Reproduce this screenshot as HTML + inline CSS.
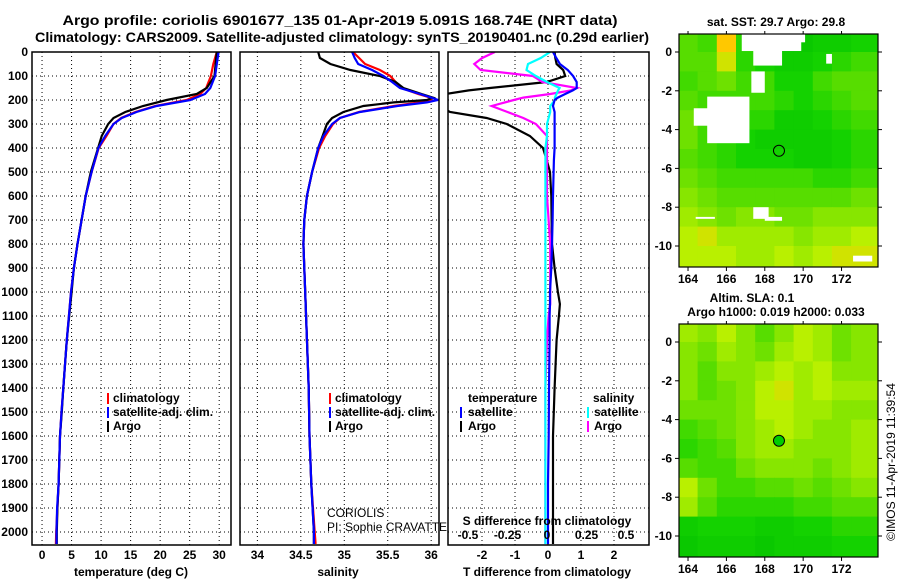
<!DOCTYPE html>
<html><head><meta charset="utf-8">
<style>
html,body{margin:0;padding:0;background:#fff;}
svg{display:block;font-family:"Liberation Sans",sans-serif;}
.b{font-weight:bold;font-size:12px;}
</style></head>
<body>
<svg id="c" width="900" height="580" viewBox="0 0 900 580" xmlns="http://www.w3.org/2000/svg">
<text x="340" y="25" text-anchor="middle" font-weight="bold" font-size="14" textLength="555" lengthAdjust="spacingAndGlyphs">Argo profile: coriolis 6901677_135 01-Apr-2019 5.091S 168.74E (NRT data)</text>
<text x="342" y="42" text-anchor="middle" font-weight="bold" font-size="14" textLength="614" lengthAdjust="spacingAndGlyphs">Climatology: CARS2009. Satellite-adjusted climatology: synTS_20190401.nc (0.29d earlier)</text>
<g id="g"></g>
</svg>
<script>
// ---- data ----
const depthsT=[0,50,100,150,175,200,225,250,275,300,350,400,500,600,700,800,900,1000,1200,1400,1500,1600,1800,1900,2000,2050];
const tempArgo=[29.6,29.4,29.2,27.9,26.2,21.1,17.1,14.1,12.1,11.2,10.1,9.5,8.25,7.4,6.7,6.0,5.4,5.0,4.2,3.6,3.34,3.05,2.8,2.6,2.5,2.5];
const tempClim=[29.6,29.0,28.6,27.8,26.8,24.5,19.2,15.8,13.4,12.1,10.9,9.6,8.4,7.4,6.7,6.0,5.4,4.9,4.2,3.6,3.3,3.05,2.8,2.6,2.4,2.35];
const tempSat=[29.9,29.6,29.3,28.5,27.6,25.1,19.4,16.0,13.5,12.1,10.7,9.55,8.4,7.4,6.7,6.0,5.4,4.9,4.2,3.6,3.3,3.05,2.8,2.55,2.45,2.45];
const depthsS=[0,25,50,75,100,125,150,175,190,200,210,225,250,275,300,350,400,500,600,700,800,1000,1400,1600,1800,2000,2050];
const salArgo=[34.70,34.72,34.84,35.07,35.41,35.59,35.68,35.89,36.02,35.95,35.57,35.22,34.99,34.86,34.80,34.75,34.70,34.63,34.57,34.54,34.53,34.55,34.59,34.60,34.62,34.65,34.65];
const salClim=[35.10,35.17,35.24,35.41,35.53,35.59,35.66,35.85,35.99,36.00,35.87,35.57,35.17,34.95,34.87,34.78,34.71,34.63,34.57,34.54,34.53,34.55,34.59,34.60,34.62,34.66,34.67];
const salSat=[35.09,35.12,35.16,35.32,35.45,35.55,35.64,35.87,36.0,36.08,35.95,35.61,35.18,34.95,34.86,34.76,34.70,34.63,34.57,34.54,34.53,34.55,34.59,34.60,34.62,34.65,34.65];
const depthsD=[0,25,50,75,100,125,150,160,175,190,200,225,250,275,300,350,400,450,500,600,700,800,900,1000,1050,1100,1200,1400,1600,1800,2050];
const dTArgo=[0.2,0.22,0.26,0.46,0.52,-0.04,-1.76,-2.4,-3.1,-3.3,-3.3,-3.3,-2.97,-1.86,-1.25,-0.55,-0.15,-0.04,0.06,0.1,0.11,0.12,0.2,0.3,0.36,0.33,0.26,0.2,0.15,0.15,0.15];
const dTSat=[0.15,0.25,0.36,0.6,0.76,0.87,0.87,0.75,0.52,0.3,0.2,0.15,0.2,0.2,0.2,0.2,0.2,0.18,0.17,0.15,0.14,0.12,0.1,0.06,0.06,0.05,0.05,0.03,0.02,0.0,0.0];
const dSArgo=[-0.33,-0.41,-0.46,-0.42,-0.09,-0.03,0.19,0.15,0.02,-0.15,-0.21,-0.35,-0.25,-0.15,-0.07,0.0,0.0,0.0,0.0,0.0,0.01,0.02,0.02,0.02,0.02,0.01,0.0,-0.01,-0.01,-0.01,-0.01];
const dSSat=[0.02,-0.04,-0.12,-0.13,-0.07,0.0,0.08,0.07,0.06,0.05,0.05,0.02,0.02,0.01,0.0,0.0,-0.01,-0.01,-0.01,-0.01,-0.01,-0.01,-0.01,-0.01,-0.01,-0.01,-0.01,-0.01,-0.01,-0.01,-0.01];
const depthTicks=[0,100,200,300,400,500,600,700,800,900,1000,1100,1200,1300,1400,1500,1600,1700,1800,1900,2000];
const tempTicks=[0,5,10,15,20,25,30];
const salTicks=[34,34.5,35,35.5,36];
const salTickLabels=["34","34.5","35","35.5","36"];
const dTTicks=[-2,-1,0,1,2];
const dSTicks=[-0.5,-0.25,0,0.25,0.5];
const dSTickLabels=["-0.5","-0.25","0","0.25","0.5"];
const lonTicks=[164,166,168,170,172];
const latTicks=[0,-2,-4,-6,-8,-10];
const argoLon=168.74, argoLat=-5.09;
const sstGrid=[
[0.35,0.3,0.7,0.25,0.15,0.1,0.1,0.15,0.15,0.2],
[0.35,0.35,0.6,0.25,0.2,0.15,0.15,0.2,0.25,0.3],
[0.3,0.35,0.4,0.3,0.3,0.2,0.2,0.3,0.35,0.35],
[0.35,0.3,0.3,0.3,0.3,0.25,0.2,0.25,0.3,0.35],
[0.4,0.3,0.3,0.25,0.25,0.15,0.15,0.2,0.25,0.3],
[0.4,0.3,0.25,0.2,0.15,0.15,0.15,0.15,0.2,0.25],
[0.35,0.3,0.25,0.2,0.2,0.2,0.15,0.15,0.2,0.25],
[0.4,0.35,0.3,0.3,0.3,0.3,0.3,0.25,0.25,0.3],
[0.45,0.4,0.35,0.35,0.35,0.35,0.35,0.35,0.35,0.4],
[0.5,0.45,0.4,0.45,0.45,0.4,0.4,0.45,0.45,0.45],
[0.55,0.6,0.5,0.5,0.5,0.5,0.45,0.5,0.5,0.55],
[0.55,0.55,0.55,0.5,0.5,0.55,0.5,0.55,0.6,0.6],
[0.55,0.55,0.55,0.5,0.5,0.55,0.5,0.55,0.6,0.6]];
const slaGrid=[
[0.5,0.45,0.55,0.45,0.35,0.45,0.55,0.5,0.4,0.45],
[0.45,0.4,0.5,0.45,0.4,0.5,0.55,0.5,0.4,0.45],
[0.45,0.35,0.45,0.45,0.5,0.55,0.5,0.55,0.45,0.45],
[0.45,0.35,0.4,0.45,0.55,0.6,0.5,0.55,0.5,0.5],
[0.4,0.4,0.4,0.45,0.55,0.55,0.5,0.5,0.45,0.45],
[0.3,0.35,0.4,0.45,0.5,0.55,0.5,0.45,0.45,0.5],
[0.25,0.3,0.35,0.45,0.5,0.5,0.45,0.45,0.45,0.5],
[0.35,0.3,0.3,0.4,0.45,0.45,0.45,0.4,0.45,0.5],
[0.55,0.4,0.3,0.3,0.35,0.35,0.4,0.35,0.4,0.45],
[0.5,0.35,0.25,0.25,0.25,0.25,0.3,0.3,0.35,0.35],
[0.15,0.2,0.2,0.2,0.15,0.15,0.2,0.2,0.25,0.25],
[0.1,0.15,0.15,0.15,0.1,0.15,0.15,0.15,0.2,0.2],
[0.1,0.15,0.15,0.15,0.1,0.15,0.15,0.15,0.2,0.2]];
// white (missing) patches in SST map: [lon0,lat0,lon1,lat1]
const sstMissing=[[166.8,0.95,169.9,0.05],[167.4,0.1,168.9,-0.7],[169.5,0.95,170.1,0.5],[167.3,-1.0,168.0,-2.1],[165.0,-2.3,167.2,-4.7],[164.3,-2.9,165.2,-3.8],[171.2,-0.1,171.5,-0.6],[167.4,-8.0,168.2,-8.6],[164.4,-8.5,165.4,-8.6],[168.0,-8.5,168.9,-8.7],[172.6,-10.5,173.6,-10.8]];

// ---- helpers ----
const G=document.getElementById('g');
const NS='http://www.w3.org/2000/svg';
function mk(tag,attrs,parent){const e=document.createElementNS(NS,tag);for(const k in attrs)e.setAttribute(k,attrs[k]);(parent||G).appendChild(e);return e;}
function txt(x,y,s,attrs,parent){const e=mk('text',Object.assign({x:x,y:y},attrs||{}),parent);e.textContent=s;return e;}
const Y0=52,DY=0.24,YB=545;
const yD=d=>Y0+d*DY;
function axisX(l,r,v0,v1){return v=>l+(v-v0)*(r-l)/(v1-v0);}
const xT=axisX(32,231,-1.7,32.0);
const xS=axisX(240,439,33.8,36.09);
const xDT=v=>548+33*v;
const xDS=v=>547+158*v;
const panels=[[32,231],[240,439],[448,649]];

panels.forEach((p,i)=>{
  const grp=mk('g',{});
  
  
  depthTicks.forEach(d=>{
    const ln=mk('line',{x1:p[0],x2:p[1],y1:yD(d),y2:yD(d),stroke:'#000','stroke-width':1,'stroke-dasharray':'1,3'},grp);
    
    
  });
});
// vertical grids
tempTicks.forEach(t=>{const l=mk('line',{x1:xT(t),x2:xT(t),y1:Y0,y2:YB,stroke:'#000','stroke-dasharray':'1,3'});

});
salTicks.forEach(t=>{const l=mk('line',{x1:xS(t),x2:xS(t),y1:Y0,y2:YB,stroke:'#000','stroke-dasharray':'1,3'});

});
dTTicks.forEach(t=>{const l=mk('line',{x1:xDT(t),x2:xDT(t),y1:Y0,y2:YB,stroke:'#000','stroke-dasharray':'1,3'});

});

// depth labels
depthTicks.forEach(d=>{const t=txt(28,yD(d)+4,String(d),{'text-anchor':'end',class:'b'});

});

// clip paths
const defs=mk('defs',{});
panels.forEach((p,i)=>{const cp=mk('clipPath',{id:'cp'+i},defs);mk('rect',{x:p[0],y:Y0,width:p[1]-p[0],height:YB-Y0},cp);});

function line(xs,ds,fx,color,clip,name){
  const pts=xs.map((v,i)=>fx(v).toFixed(1)+','+yD(ds[i]).toFixed(1)).join(' ');
  const e=mk('polyline',{points:pts,fill:'none',stroke:color,'stroke-width':2.2,'clip-path':'url(#cp'+clip+')'});
  
  
}
line(tempClim,depthsT,xT,'#ff0000',0,'temp-climatology-line');
line(tempArgo,depthsT,xT,'#000000',0,'temp-argo-line');
line(tempSat,depthsT,xT,'#0000ff',0,'temp-satellite-line');
line(salClim,depthsS,xS,'#ff0000',1,'sal-climatology-line');
line(salArgo,depthsS,xS,'#000000',1,'sal-argo-line');
line(salSat,depthsS,xS,'#0000ff',1,'sal-satellite-line');
line(dTArgo,depthsD,xDT,'#000000',2,'tdiff-argo-line');
line(dSArgo,depthsD,xDS,'#ff00ff',2,'sdiff-argo-line');
line(dSSat,depthsD,xDS,'#00ffff',2,'sdiff-satellite-line');
line(dTSat,depthsD,xDT,'#0000ff',2,'tdiff-satellite-line');

// frames
panels.forEach(p=>{const r=mk('rect',{x:p[0],y:Y0,width:p[1]-p[0],height:YB-Y0,fill:'none',stroke:'#000','stroke-width':1.5});

});

// x tick labels
tempTicks.forEach(t=>{const e=txt(xT(t),559,String(t),{'text-anchor':'middle',class:'b'});

});
salTicks.forEach((t,i)=>{const e=txt(xS(t),559,salTickLabels[i],{'text-anchor':'middle',class:'b'});

});
dTTicks.forEach(t=>{const e=txt(xDT(t),559,String(t),{'text-anchor':'middle',class:'b'});

});
dSTicks.forEach((t,i)=>{const e=txt(xDS(t),539,dSTickLabels[i],{'text-anchor':'middle',class:'b'});

});
[[131,'temperature (deg C)','temp-axis-title'],[338,'salinity','sal-axis-title'],[547,'T difference from climatology','tdiff-axis-title']].forEach(a=>{
  const e=txt(a[0],576,a[1],{'text-anchor':'middle',class:'b','font-size':13});
  
  });
{const e=txt(547,525,'S difference from climatology',{'text-anchor':'middle',class:'b','font-size':13});

}

// legends
function leg(mx,tx,y,color,label,name){
  mk('rect',{x:mx,y:y-9,width:2,height:11,fill:color});
  const e=txt(tx,y,label,{class:'b','font-size':12.5});
  
  
}
leg(107,113,402,'#ff0000','climatology','temp-legend-climatology');
leg(107,113,416,'#0000ff','satellite-adj. clim.','temp-legend-satellite');
leg(107,113,430,'#000000','Argo','temp-legend-argo');
leg(329,335,402,'#ff0000','climatology','sal-legend-climatology');
leg(329,335,416,'#0000ff','satellite-adj. clim.','sal-legend-satellite');
leg(329,335,430,'#000000','Argo','sal-legend-argo');
{const e=txt(468,402,'temperature',{class:'b','font-size':12.5});}
leg(460,468,416,'#0000ff','satellite','diff-legend-temp-satellite');
leg(460,468,430,'#000000','Argo','diff-legend-temp-argo');
{const e=txt(593,402,'salinity',{class:'b','font-size':12.5});}
leg(587,594,416,'#00ffff','satellite','diff-legend-sal-satellite');
leg(587,594,430,'#ff00ff','Argo','diff-legend-sal-argo');
{const e=txt(327,517,'CORIOLIS',{'font-size':12});}
{const e=txt(327,531,'PI: Sophie CRAVATTE',{'font-size':12});}

// ---- maps ----
function col(v){
  const stops=[[0,[0,190,0]],[0.2,[20,210,0]],[0.4,[110,225,0]],[0.55,[185,240,0]],[0.7,[255,200,0]],[1,[255,120,0]]];
  for(let i=1;i<stops.length;i++){if(v<=stops[i][0]){const a=stops[i-1],b=stops[i],f=(v-a[0])/(b[0]-a[0]);
    return 'rgb('+a[1].map((c,k)=>Math.round(c+(b[1][k]-c)*f)).join(',')+')';}}
  return 'rgb(255,120,0)';
}
function drawMap(top,bot,grid,missing,title,circleFill,name){
  const L=679,R=878;
  const xL=axisX(L,R,163.53,173.9);
  const latTop=0.93+ (top-34)*0, yL=v=>top+18+(0-v)*19.4;
  const cpid='mcp'+name;
  const cp=mk('clipPath',{id:cpid},defs);mk('rect',{x:L,y:top,width:R-L,height:bot-top},cp);
  const g=mk('g',{'clip-path':'url(#'+cpid+')'});
  
  
  grid.forEach((row,r)=>row.forEach((v,c)=>{
    const x0=xL(164+c-0.5),x1=xL(165+c-0.5),y0=yL(1-r),y1=yL(-r);
    const cell=mk('rect',{x:x0.toFixed(1),y:y0.toFixed(1),width:(x1-x0+0.6).toFixed(1),height:(y1-y0+0.6).toFixed(1),fill:col(v)},g);
    
    
  }));
  // extra column on the left edge
  grid.forEach((row,r)=>{const x0=xL(163),x1=xL(163.5),y0=yL(1-r),y1=yL(-r);
    const cell=mk('rect',{x:x0,y:y0,width:x1-x0+0.6,height:y1-y0+0.6,fill:col(row[0])},g);
    
    });
  {const c=grid.length-1;}
  grid.forEach((row,r)=>{const x0=xL(173.5),x1=xL(174.5),y0=yL(1-r),y1=yL(-r);
    const cell=mk('rect',{x:x0,y:y0,width:x1-x0,height:y1-y0+0.6,fill:col(row[9])},g);
    
    });
  missing.forEach(m=>{const w=mk('rect',{x:xL(m[0]),y:yL(m[1]),width:xL(m[2])-xL(m[0]),height:yL(m[3])-yL(m[1]),fill:'#fff'},g);
    
    });
  const ci=mk('circle',{cx:xL(argoLon),cy:yL(argoLat),r:5.5,fill:circleFill,stroke:'#000','stroke-width':1});
  
  
  const fr=mk('rect',{x:L,y:top,width:R-L,height:bot-top,fill:'none',stroke:'#000','stroke-width':1.2});
  
  
  lonTicks.forEach(t=>{mk('line',{x1:xL(t),x2:xL(t),y1:bot,y2:bot+4,stroke:'#000'});mk('line',{x1:xL(t),x2:xL(t),y1:top,y2:top-3,stroke:'#000'});
    const e=txt(xL(t),bot+16,String(t),{'text-anchor':'middle',class:'b'});
    
    });
  latTicks.forEach(t=>{mk('line',{x1:L,x2:L-4,y1:yL(t),y2:yL(t),stroke:'#000'});mk('line',{x1:R,x2:R+4,y1:yL(t),y2:yL(t),stroke:'#000'});
    const e=txt(672,yL(t)+4,String(t),{'text-anchor':'end',class:'b'});
    
    });
  title.forEach((s,i)=>{const e=txt(s[1],s[2],s[0],{'text-anchor':'middle',class:'b'});
    
    });
}
drawMap(34,267,sstGrid,sstMissing,[['sat. SST: 29.7 Argo: 29.8',776,26]],'none','sst-map');
drawMap(324,557,slaGrid,[],[['Altim. SLA: 0.1',752,302],['Argo h1000: 0.019 h2000: 0.033',776,316]],'#00cc00','sla-map');
{const e=txt(0,0,'©IMOS 11-Apr-2019 11:39:54',{'font-size':12,transform:'translate(895,462) rotate(-90)','text-anchor':'middle'});

}
</script>
</body></html>
